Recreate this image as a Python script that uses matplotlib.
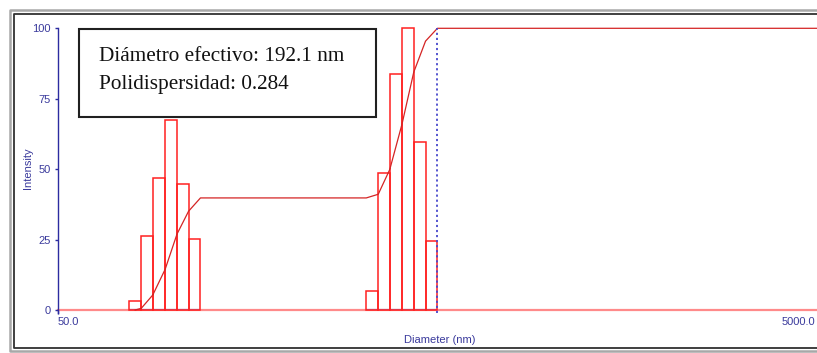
import numpy as np
import matplotlib
matplotlib.use("Agg")
import matplotlib.pyplot as plt
import matplotlib.transforms as mtransforms
from matplotlib.lines import Line2D
from matplotlib.patches import Rectangle

# Intensity-weighted size distribution (two populations)
diam_small = [79.7, 85.7, 92.0, 98.9, 106.2, 114.1]      # nm, bin centres
int_small = [3.1, 26.2, 47.0, 67.3, 44.7, 25.3]
diam_large = [333.9, 358.9, 385.3, 414.0, 444.7, 477.8]  # nm, bin centres
int_large = [6.9, 48.5, 83.9, 100.0, 59.6, 24.4]

x_limits = [50.0, 5000.0]
x_tick_labels = ["50.0", "5000.0"]
y_ticks = [0, 25, 50, 75, 100]
info_lines = ["Diámetro efectivo: 192.1 nm", "Polidispersidad: 0.284"]

W, H = 817, 353
fig = plt.figure(figsize=(W / 100, H / 100), dpi=100)
fig.patch.set_facecolor("white")

def px(x, y):
    return x / W, 1 - y / H

# Outer window frame (double border)
frame_kw = dict(transform=fig.transFigure)
for (x0, y0, x1, y1, c, lw) in [(10, 10, 830, 351, "#a8a8a8", 1.8),
                                (14, 14, 830, 348, "#303030", 1.3)]:
    xs = [x1 / W, x0 / W, x0 / W, x1 / W]
    ys = [1 - y0 / H, 1 - y0 / H, 1 - y1 / H, 1 - y1 / H]
    fig.add_artist(Line2D(xs, ys, color=c, lw=lw, **frame_kw))

ax = fig.add_axes([58 / W, (H - 310) / H, 762 / W, 281.7 / H])
ax.set_xscale("log")
ax.set_xlim(*x_limits)
ax.set_ylim(0, 100)

blue = "#2c2ca0"
red = "#ff2020"

def edges_of(centres):
    c = np.asarray(centres, float)
    r = (c[-1] / c[0]) ** (1 / (len(c) - 1))
    return c / np.sqrt(r), c * np.sqrt(r)

# Zero line across the whole axis
ax.axhline(0, color="#ff8a8a", lw=1.6, zorder=1, clip_on=False)

all_lo, all_hi, all_val = [], [], []
for centres, vals in [(diam_small, int_small), (diam_large, int_large)]:
    lo, hi = edges_of(centres)
    ax.hlines(0, lo[0], hi[-1], color="#8888cc", lw=1.6, zorder=2)
    ax.bar(lo, vals, width=hi - lo, align="edge", fill=False,
           edgecolor=red, lw=1.1, zorder=3, clip_on=False)
    all_lo.extend(lo)
    all_hi.extend(hi)
    all_val.extend(vals)

# Cumulative intensity curve
cum = np.cumsum(all_val) / np.sum(all_val) * 100
cx = [diam_small[0]]
cy = [0.0]
for i in range(len(all_hi)):
    if i > 0 and not np.isclose(all_lo[i], all_hi[i - 1]):
        cx.append(all_lo[i])
        cy.append(cum[i - 1])
    cx.append(all_hi[i])
    cy.append(cum[i])
cx.append(x_limits[1])
cy.append(100.0)
ax.plot(cx, cy, color="#d42424", lw=0.9, zorder=4, clip_on=False)

# Upper limit marker of the distribution
ax.vlines(all_hi[-1], -1.0, 100, colors="#4848cc", lw=1.3,
          linestyles=(0, (1.2, 1.6)), zorder=5, clip_on=False)

# Axes styling
for s in ["top", "right", "bottom"]:
    ax.spines[s].set_visible(False)
ax.spines["left"].set_color(blue)
ax.spines["left"].set_linewidth(1.0)
ax.spines["left"].set_bounds(-1.0, 100)

ax.set_yticks(y_ticks)
ax.set_yticklabels([str(t) for t in y_ticks])
ax.tick_params(axis="y", length=2, width=1, color=blue, pad=3,
               labelsize=8, labelcolor="#3a3a9c")
ax.set_xticks(x_limits)
ax.set_xticklabels(x_tick_labels)
ax.xaxis.set_minor_locator(matplotlib.ticker.NullLocator())
ax.tick_params(axis="x", length=3, width=1, color=blue, pad=2,
               labelsize=8, labelcolor="#3a3a9c")
xl = ax.get_xticklabels()
xl[0].set_horizontalalignment("left")
xl[1].set_horizontalalignment("right")
# keep the right-hand label inside the canvas
xl[1].set_transform(xl[1].get_transform() +
                    mtransforms.ScaledTranslation(-5 / 100, 0, fig.dpi_scale_trans))
for t in ax.get_xticklabels() + ax.get_yticklabels():
    t.set_fontfamily("Liberation Sans")

ax.set_ylabel("Intensity", fontsize=8, color="#3a3a9c", family="Liberation Sans")
ax.yaxis.set_label_coords(-0.0395, 0.5035)
ax.set_xlabel("Diameter (nm)", fontsize=8, color="#3a3a9c", family="Liberation Sans")
ax.xaxis.set_label_coords(0.5007, -0.106)
ax.xaxis.label.set_verticalalignment("center")
ax.yaxis.label.set_verticalalignment("center")

# Summary box
bx0, by0, bx1, by1 = 79, 29, 376, 116.5
fig.add_artist(Rectangle(px(bx0, by1), (bx1 - bx0) / W, (by1 - by0) / H,
                         transform=fig.transFigure, facecolor="white",
                         edgecolor="#202020", lw=1.5, zorder=10))
for line, base in zip(info_lines, [61, 89]):
    fig.text(99 / W, 1 - base / H, line, fontsize=15.3,
             family="Liberation Serif", color="#111111",
             va="baseline", ha="left", zorder=11)

fig.savefig("out.png", dpi=100, facecolor="white")
